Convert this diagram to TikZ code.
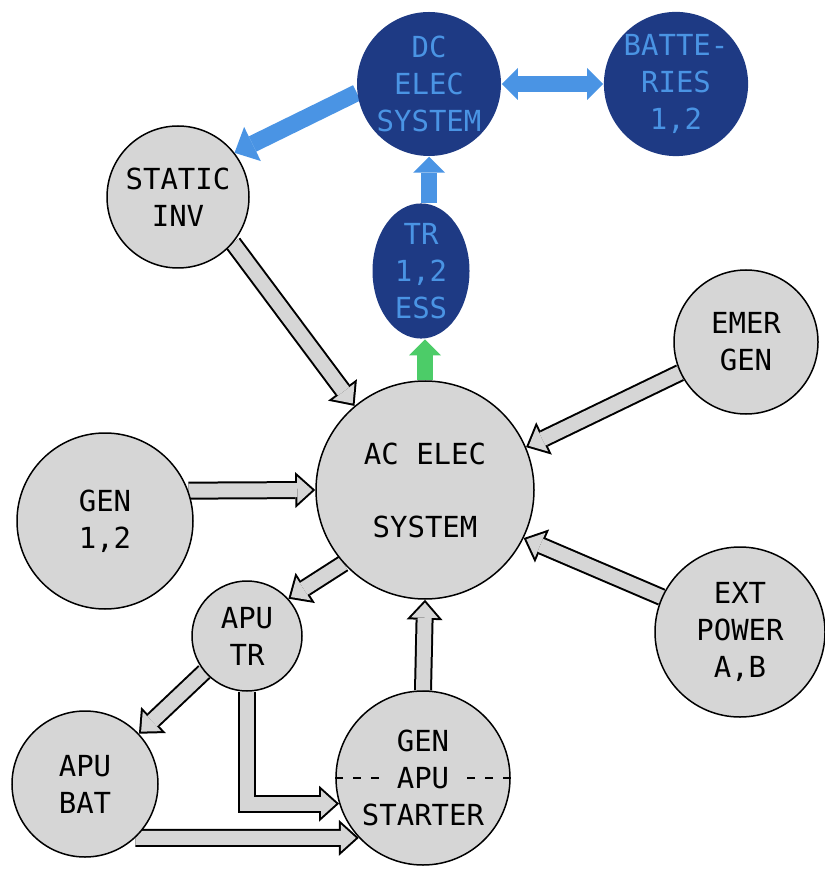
\documentclass[tikz,border=0pt]{standalone}
\usepackage{fontspec}
\setmonofont{DejaVu Sans Mono}
\usetikzlibrary{arrows.meta,shapes.geometric}

\definecolor{navy}{RGB}{30,58,132}
\definecolor{skyb}{RGB}{74,148,228}
\definecolor{lgray}{RGB}{214,214,214}
\definecolor{lgreen}{RGB}{76,204,104}

\pgfdeclarelayer{back}
\pgfsetlayers{back,main}

\tikzset{
	unit/.style={circle, draw=black, line width=0.75pt, fill=lgray, inner sep=0pt,
		align=center, font=\ttfamily\fontsize{14.5}{18.5}\selectfont},
	dcunit/.style={unit, draw=none, fill=navy, text=skyb},
	feed/.style={draw=black, line width=9pt,
		-{Triangle[width=18pt,length=10pt,line width=0pt]},
		postaction={draw=lgray, line width=7pt, shorten >=1.5pt,
			-{Triangle[width=13.5pt,length=7.5pt,line width=0pt]}}},
	flow/.style={draw=skyb, line width=8pt,
		>={Triangle[width=16pt,length=8pt,line width=0pt]}}
}

\begin{document}
\begin{tikzpicture}[x=0.5pt, y=-0.5pt]
	\useasboundingbox (0,0) rectangle (824,876);

	% dc side
	\node[dcunit, minimum size=72pt] (dc) at (429,84) {DC\\ELEC\\SYSTEM};
	\node[dcunit, minimum size=72pt] (bat) at (676,84) {BATTE-\\RIES\\1,2};
	\node[dcunit, ellipse, minimum width=48.5pt, minimum height=62pt] (tr) at (421,271) {TR\\1,2\\ESS};

	% ac side
	\node[unit, minimum size=71pt] (inv) at (178,197) {STATIC\\INV};
	\node[unit, minimum size=109pt] (ac) at (425,490) {AC ELEC\\[18pt]SYSTEM};
	\node[unit, minimum size=88pt] (gen) at (105,521) {GEN\\1,2};
	\node[unit, minimum size=72pt] (emer) at (746,342) {EMER\\GEN};
	\node[unit, minimum size=85pt] (ext) at (740,632) {EXT\\POWER\\A,B};
	\node[unit, minimum size=55pt] (aputr) at (247,636) {APU\\TR};
	\node[unit, minimum size=73pt] (apubat) at (85,784) {APU\\BAT};
	\node[unit, minimum size=87pt] (gas) at (423,778) {GEN\\APU\\STARTER};

	\draw[dash pattern=on 4pt off 5pt, line width=0.8pt] (gas.west) -- +(46,0);
	\draw[dash pattern=on 4pt off 5pt, line width=0.8pt] (gas.east) -- +(-46,0);

	\begin{pgfonlayer}{back}
		\draw[flow, <->] (dc.east) -- (bat.west);
		\draw[flow, line width=8.5pt, ->, >={Triangle[width=19pt,length=10pt,line width=0pt]}] (dc.187) -- (inv.38);
		\draw[flow, ->] (tr.north -| dc.south) -- (dc.south);
		\draw[flow, draw=lgreen, ->] (ac.north) -- (ac.north |- tr.south);

		\draw[feed] (inv.-40) -- (ac.130);
		\draw[feed] (gen.20) -- (ac.180);
		\draw[feed] (emer.205) -- (ac.23);
		\draw[feed] (ext.156) -- (ac.-26);
		\draw[feed] (ac.222) -- (aputr.42);
		\draw[feed] (gas.north) -- (ac.south);
		\draw[feed] (aputr.220) -- (apubat.43);
		\draw[feed] (aputr.south) |- (gas.197);
		\draw[feed] (apubat.-47) -- (gas.223);
	\end{pgfonlayer}
\end{tikzpicture}
\end{document}
